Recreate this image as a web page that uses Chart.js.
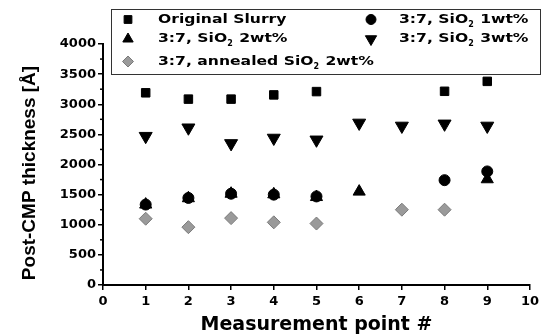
<!DOCTYPE html>
<html lang="en">
  <head>
    <meta charset="utf-8" />
    <title>Post-CMP thickness</title>
    <script src="https://cdn.jsdelivr.net/npm/chart.js"></script>
    <style>
      body {
        margin: 0;
        padding: 0;
        background: #fff;
      }
      #wrap {
        width: 543px;
        height: 335px;
      }
    </style>
  </head>
  <body>
    <div id="wrap">
      <canvas id="myChart" width="543" height="335"></canvas>
    </div>

    <script>
      var points = [1, 2, 3, 4, 5, 6, 7, 8, 9];
      var original = [3190, 3085, 3085, 3155, 3210, null, null, 3215, 3380];
      var sio1 = [1335, 1445, 1515, 1500, 1470, null, null, 1740, 1885];
      var sio2 = [1335, 1440, 1515, 1505, 1460, 1550, null, null, 1755];
      var sio3 = [2470, 2610, 2350, 2440, 2410, 2690, 2640, 2675, 2640];
      var annealed = [1100, 960, 1110, 1040, 1020, null, 1250, 1250, null];
      var xTicks = [0, 1, 2, 3, 4, 5, 6, 7, 8, 9, 10];
      var yTicks = [0, 500, 1000, 1500, 2000, 2500, 3000, 3500, 4000];

      var labels = [
        'Original Slurry',
        '3:7, SiO₂ 1wt%',
        '3:7, SiO₂ 2wt%',
        '3:7, SiO₂ 3wt%',
        '3:7, annealed SiO₂ 2wt%'
      ];

      function toXY(values) {
        var out = [];
        for (var i = 0; i < points.length; i++) {
          if (values[i] !== null) out.push({ x: points[i], y: values[i] });
        }
        return out;
      }

      var tickFont = { family: 'DejaVu Sans', weight: 'bold', size: 13 };

      // legend in a box, two columns, with subscript 2
      var boxLegend = {
        id: 'boxLegend',
        afterDraw: function (chart) {
          var ctx = chart.ctx;
          var cols = [{ sym: 128, txt: 158 }, { sym: 371, txt: 399 }];
          var rows = [19.5, 39, 61.5];
          var stretch = 1.2;
          ctx.save();
          ctx.strokeStyle = '#333';
          ctx.lineWidth = 1;
          ctx.strokeRect(111.5, 9.5, 429, 65);
          chart.data.datasets.forEach(function (ds, i) {
            var c = cols[i % 2];
            var y = rows[Math.floor(i / 2)];
            ctx.fillStyle = ds.backgroundColor;
            ctx.strokeStyle = ds.borderColor;
            ctx.lineWidth = 1;
            Chart.helpers.drawPoint(ctx, {
              pointStyle: ds.pointStyle,
              radius: ds.legendRadius,
              rotation: ds.rotation || 0,
              borderWidth: 1
            }, c.sym, y);
            // text
            ctx.fillStyle = '#000';
            ctx.textBaseline = 'middle';
            ctx.textAlign = 'left';
            var parts = ds.label.split('₂');
            var x = c.txt;
            for (var p = 0; p < parts.length; p++) {
              ctx.font = 'bold 13px "DejaVu Sans"';
              ctx.save();
              ctx.translate(x, y);
              ctx.scale(stretch, 1);
              ctx.fillText(parts[p], 0, 0);
              ctx.restore();
              x += ctx.measureText(parts[p]).width * stretch;
              if (p < parts.length - 1) {
                ctx.font = 'bold 8px "DejaVu Sans"';
                ctx.fillText('2', x, y + 5);
                x += ctx.measureText('2').width + 1;
              }
            }
          });
          ctx.restore();
        }
      };

      // minor ticks on the y axis and the rotated y title
      var axisExtras = {
        id: 'axisExtras',
        afterDraw: function (chart) {
          var ctx = chart.ctx;
          var ys = chart.scales.y;
          ctx.save();
          ctx.strokeStyle = '#000';
          ctx.lineWidth = 1.5;
          for (var v = 250; v < 4000; v += 500) {
            var py = ys.getPixelForValue(v);
            ctx.beginPath();
            ctx.moveTo(ys.right - 3, py);
            ctx.lineTo(ys.right, py);
            ctx.stroke();
          }
          ctx.translate(30, 173);
          ctx.rotate(-Math.PI / 2);
          ctx.fillStyle = '#000';
          ctx.font = 'bold 19px "Liberation Sans"';
          ctx.textAlign = 'center';
          ctx.textBaseline = 'middle';
          ctx.fillText('Post-CMP thickness [Å]', 0, 0);
          ctx.restore();
        }
      };

      var ctx = document.getElementById('myChart').getContext('2d');
      var myChart = new Chart(ctx, {
        type: 'scatter',
        data: {
          datasets: [{
            label: labels[0],
            data: toXY(original),
            pointStyle: 'rect',
            pointRadius: 6,
            legendRadius: 5.5,
            backgroundColor: '#000',
            borderColor: '#000'
          }, {
            label: labels[1],
            data: toXY(sio1),
            pointStyle: 'circle',
            pointRadius: 5.5,
            legendRadius: 5,
            backgroundColor: '#000',
            borderColor: '#000'
          }, {
            label: labels[2],
            data: toXY(sio2),
            pointStyle: 'triangle',
            pointRadius: 7,
            legendRadius: 6,
            backgroundColor: '#000',
            borderColor: '#000'
          }, {
            label: labels[3],
            data: toXY(sio3),
            pointStyle: 'triangle',
            rotation: 180,
            pointRotation: 180,
            pointRadius: 7.5,
            legendRadius: 6.5,
            backgroundColor: '#000',
            borderColor: '#000'
          }, {
            label: labels[4],
            data: toXY(annealed),
            pointStyle: 'rectRot',
            pointRadius: 6.5,
            legendRadius: 5.5,
            backgroundColor: '#9a9a9a',
            borderColor: '#7a7a7a'
          }]
        },
        options: {
          responsive: false,
          animation: false,
          devicePixelRatio: 1,
          layout: { padding: { top: 44, right: 13, left: 0, bottom: 0 } },
          plugins: {
            legend: { display: false },
            tooltip: { enabled: false }
          },
          scales: {
            x: {
              type: 'linear',
              min: 0,
              max: 10,
              afterFit: function (s) { s.height = 50; },
              afterBuildTicks: function (s) {
                s.ticks = xTicks.map(function (v) { return { value: v }; });
              },
              ticks: {
                font: tickFont,
                color: '#000',
                padding: 4,
                callback: function (v) { return String(v); }
              },
              grid: { drawOnChartArea: false, drawTicks: true, tickLength: 5, color: '#000', lineWidth: 1.5 },
              border: { color: '#000', width: 2 },
              title: {
                display: true,
                text: 'Measurement point #',
                color: '#000',
                font: { family: 'DejaVu Sans', weight: 'bold', size: 19, lineHeight: 1 },
                padding: { top: 0, bottom: 0 }
              }
            },
            y: {
              min: 0,
              max: 4000,
              afterFit: function (s) { s.width = 103; },
              afterBuildTicks: function (s) {
                s.ticks = yTicks.map(function (v) { return { value: v }; });
              },
              ticks: {
                font: tickFont,
                color: '#000',
                padding: 2,
                callback: function (v) { return String(v); }
              },
              grid: { drawOnChartArea: false, drawTicks: true, tickLength: 5, color: '#000', lineWidth: 1.5 },
              border: { color: '#000', width: 2 }
            }
          }
        },
        plugins: [boxLegend, axisExtras]
      });
    </script>
  </body>
</html>
